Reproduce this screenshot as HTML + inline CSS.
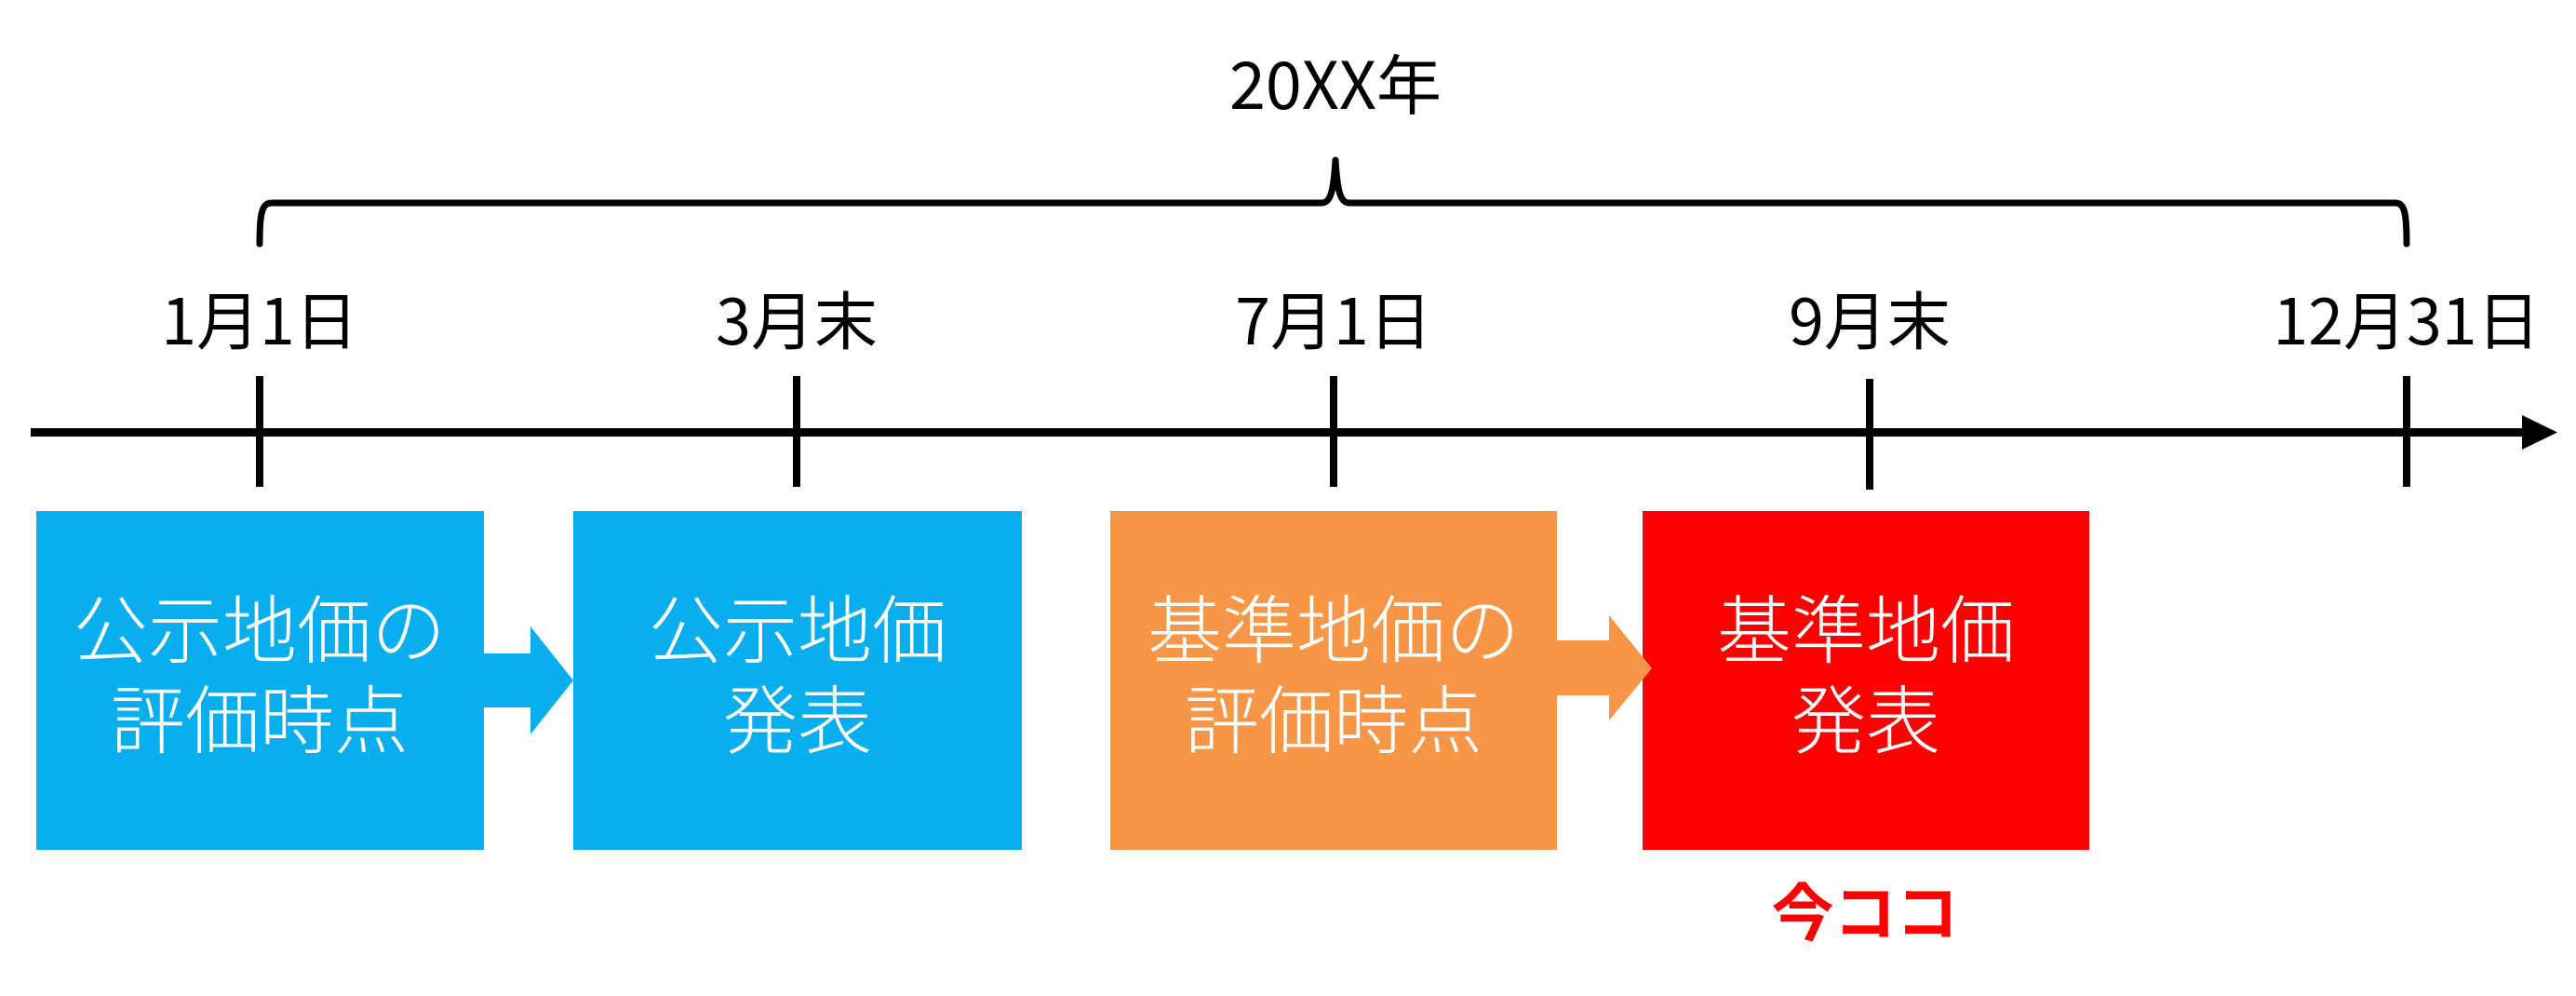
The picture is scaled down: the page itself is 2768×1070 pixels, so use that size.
<!DOCTYPE html>
<html><head><meta charset="utf-8"><style>
html,body{margin:0;padding:0;background:#fff;}
svg{display:block;}
text{font-family:"Noto Sans CJK JP",sans-serif;}
.lbl{font-size:68px;fill:#000;text-anchor:middle;font-weight:400;}
.bx{font-size:80px;fill:#fff;text-anchor:middle;font-family:"Noto Sans CJK JP",sans-serif;font-weight:300;}
</style></head><body>
<svg width="2768" height="1070" viewBox="0 0 2768 1070" xmlns="http://www.w3.org/2000/svg">
<text class="lbl" x="1435" y="117" style="font-size:70px">20XX年</text>
<path d="M279 262 C279 230 281 218 292 218 L1420 218 C1430 218 1433 205 1435 172 C1437 205 1440 218 1450 218 L2574 218 C2584 218 2586 230 2586 262" fill="none" stroke="#000" stroke-width="7" stroke-linejoin="round" stroke-linecap="round"/>
<text class="lbl" x="279" y="370">1月1日</text>
<text class="lbl" x="856" y="370">3月末</text>
<text class="lbl" x="1433" y="370">7月1日</text>
<text class="lbl" x="2009" y="370">9月末</text>
<text class="lbl" x="2586" y="370">12月31日</text>
<rect x="33" y="460" width="2690" height="9" fill="#000"/>
<polygon points="2710,446 2748,464.5 2710,483" fill="#000"/>
<g fill="#000">
<rect x="275" y="404" width="8" height="119"/>
<rect x="852" y="404" width="8" height="119"/>
<rect x="1429" y="404" width="8" height="119"/>
<rect x="2005" y="407" width="8" height="119"/>
<rect x="2582" y="404" width="8" height="119"/>
</g>
<rect x="39" y="549" width="481" height="364" fill="#08AEEE"/>
<rect x="616" y="549" width="482" height="364" fill="#08AEEE"/>
<rect x="1193" y="549" width="480" height="364" fill="#F79646"/>
<rect x="1765" y="549" width="480" height="364" fill="#FF0000"/>
<polygon points="520,702 570,702 570,673 616,731 570,789 570,760 520,760" fill="#08AEEE"/>
<polygon points="1673,688 1729,688 1729,661 1775,718 1729,774 1729,747 1673,747" fill="#F79646"/>
<text class="bx" x="279" y="706">公示地価の</text>
<text class="bx" x="279" y="803">評価時点</text>
<text class="bx" x="857" y="706">公示地価</text>
<text class="bx" x="857" y="803">発表</text>
<text class="bx" x="1433" y="706">基準地価の</text>
<text class="bx" x="1433" y="803">評価時点</text>
<text class="bx" x="2005" y="706">基準地価</text>
<text class="bx" x="2005" y="803">発表</text>
<text x="2004" y="1005" style="font-size:67px;font-weight:bold;fill:#FF0000;text-anchor:middle;font-family:'Noto Sans CJK JP',sans-serif">今ココ</text>
</svg>
</body></html>
